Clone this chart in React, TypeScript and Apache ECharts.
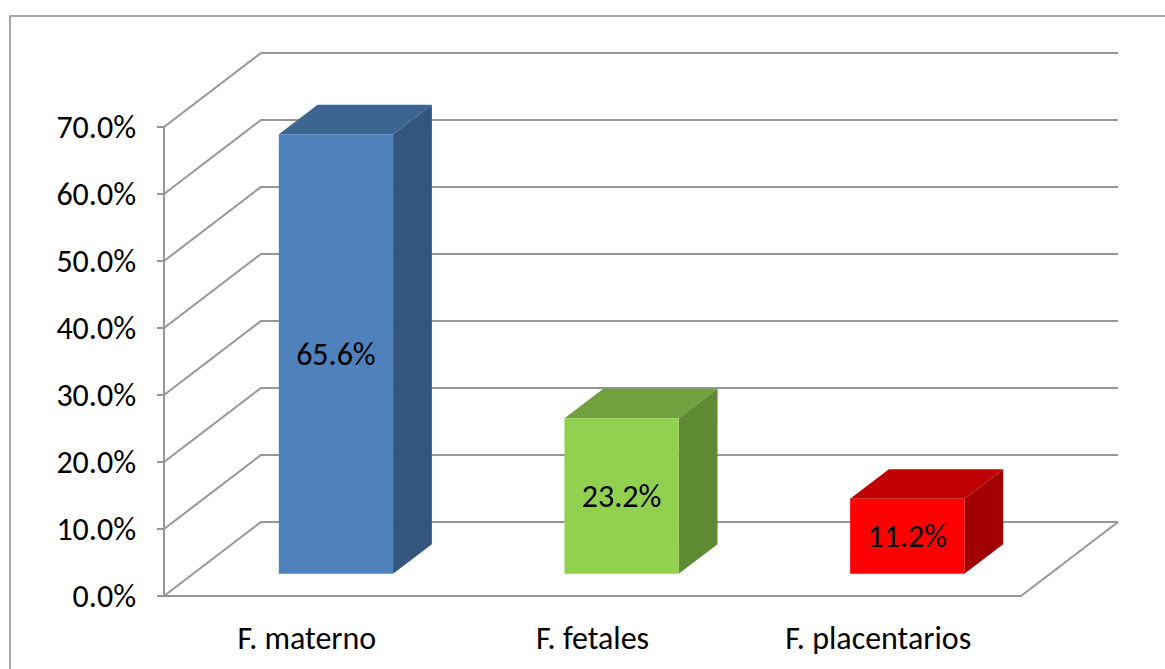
import { useEffect, useRef } from "react";
import * as echarts from "echarts";

// Chart data
const categories = ["F. materno", "F. fetales", "F. placentarios"];
const values = [65.6, 23.2, 11.2];
const yTicks = [0, 10, 20, 30, 40, 50, 60, 70];

// Face colours of each box: front, top, right side
const frontColors = ["#4F81BD", "#92D050", "#FF0000"];
const topColors = ["#3D6592", "#71A03F", "#C00000"];
const sideColors = ["#34567E", "#5E8A33", "#A20000"];

// Pseudo-3D projection: pixel offset from the front plane to the back wall
const DEPTH_X = 97;
const DEPTH_Y = -74;
// Box placement inside the depth and the category band (fractions)
const BAR_FRONT = 0.3;
const BAR_DEPTH = 0.4;
const BAR_WIDTH = 0.4;

const FONT = "Carlito, Lato, 'Open Sans', sans-serif";
const FONT_SIZE = 32;
const GRID_COLOR = "#979797";

export default function App() {
  const ref = useRef<HTMLDivElement>(null);

  useEffect(() => {
    document.body.style.margin = "0";
    const chart = echarts.init(ref.current!, null, { renderer: "svg" });

    // Side wall diagonals and back wall gridlines, plus the right floor edge
    const wallRender = (params: any, api: any) => {
      const v = api.value(1);
      const cs = params.coordSys;
      const left = cs.x;
      const right = cs.x + cs.width;
      const y = api.coord([0, v])[1];
      const lineStyle = { stroke: GRID_COLOR, lineWidth: 2, fill: null };
      const children: any[] = [
        {
          type: "polyline",
          shape: {
            points: [
              [left, y],
              [left + DEPTH_X, y + DEPTH_Y],
              [right + DEPTH_X, y + DEPTH_Y],
            ],
          },
          style: lineStyle,
        },
      ];
      if (v === 0) {
        children.push({
          type: "line",
          shape: { x1: right, y1: y, x2: right + DEPTH_X, y2: y + DEPTH_Y },
          style: lineStyle,
        });
      }
      return { type: "group", children };
    };

    // One shaded box per category with its value on the front face
    const barRender = (params: any, api: any) => {
      const idx = api.value(0);
      const val = api.value(1);
      const base = api.coord([idx, 0]);
      const top = api.coord([idx, val]);
      const band = api.size([1, 0])[0];
      const w = band * BAR_WIDTH;
      const ox = DEPTH_X * BAR_FRONT;
      const oy = DEPTH_Y * BAR_FRONT;
      const dx = DEPTH_X * BAR_DEPTH;
      const dy = DEPTH_Y * BAR_DEPTH;
      const fl = base[0] - w / 2 + ox;
      const fr = base[0] + w / 2 + ox;
      const ft = top[1] + oy;
      const fb = base[1] + oy;
      return {
        type: "group",
        children: [
          {
            type: "polygon",
            shape: {
              points: [
                [fl, ft],
                [fr, ft],
                [fr + dx, ft + dy],
                [fl + dx, ft + dy],
              ],
            },
            style: { fill: topColors[idx] },
          },
          {
            type: "polygon",
            shape: {
              points: [
                [fr, ft],
                [fr + dx, ft + dy],
                [fr + dx, fb + dy],
                [fr, fb],
              ],
            },
            style: { fill: sideColors[idx] },
          },
          {
            type: "rect",
            shape: { x: fl, y: ft, width: fr - fl, height: fb - ft },
            style: { fill: frontColors[idx] },
          },
          {
            type: "text",
            style: {
              text: `${val.toFixed(1)}%`,
              x: (fl + fr) / 2,
              y: (ft + fb) / 2,
              align: "center",
              verticalAlign: "middle",
              fill: "#000",
              fontSize: FONT_SIZE,
              fontFamily: FONT,
            },
          },
        ],
      };
    };

    chart.setOption({
      animation: false,
      backgroundColor: "#fff",
      graphic: [
        {
          type: "rect",
          shape: { x: 10, y: 16, width: 1175, height: 680 },
          style: { fill: "none", stroke: "#8a8a8a", lineWidth: 1.5 },
          silent: true,
        },
      ],
      grid: { left: 164, right: 144, top: 127, bottom: 73 },
      xAxis: {
        type: "category",
        data: categories,
        axisLine: { lineStyle: { color: GRID_COLOR, width: 2 } },
        axisTick: { length: 9, lineStyle: { color: GRID_COLOR, width: 2 } },
        axisLabel: { color: "#000", fontSize: FONT_SIZE, fontFamily: FONT, margin: 26 },
      },
      yAxis: {
        type: "value",
        min: 0,
        max: 70,
        interval: 10,
        axisLine: { show: true, lineStyle: { color: GRID_COLOR, width: 2 } },
        axisTick: { show: true, length: 7, lineStyle: { color: GRID_COLOR, width: 2 } },
        splitLine: { show: false },
        axisLabel: {
          color: "#000",
          fontSize: FONT_SIZE,
          fontFamily: FONT,
          margin: 28,
          formatter: (v: number) => `${v.toFixed(1)}%`,
        },
      },
      series: [
        {
          type: "custom",
          silent: true,
          z: 1,
          renderItem: wallRender,
          data: yTicks.map((v) => [0, v]),
          encode: { x: 0, y: 1 },
        },
        {
          type: "custom",
          z: 2,
          renderItem: barRender,
          data: values.map((v, i) => [i, v]),
          encode: { x: 0, y: 1 },
        },
      ],
    });

    return () => chart.dispose();
  }, []);

  return (
    <div
      ref={ref}
      style={{ position: "absolute", left: 0, top: 0, width: 1165, height: 669 }}
    />
  );
}
